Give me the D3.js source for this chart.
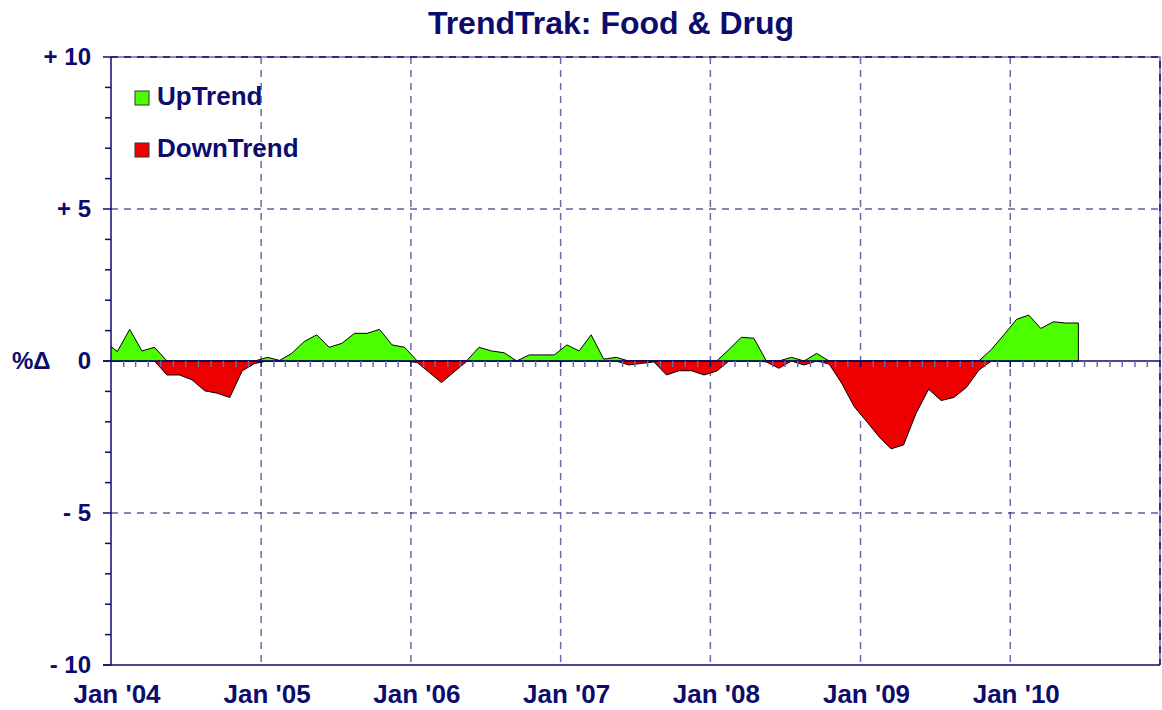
<!DOCTYPE html>
<html>
<head>
<meta charset="utf-8">
<script src="https://cdn.jsdelivr.net/npm/d3@7"></script>
<style>
  body { margin: 0; background: #fff; }
  text { font-family: "Liberation Sans", Arial, sans-serif; font-weight: bold; fill: #0c0c6e; }
</style>
</head>
<body>
<div id="chart"></div>
<script>
// monthly % change, Dec '03 .. Jun '10 (Dec '03 is clipped by the axis)
var startMonth = new Date(2003, 11, 1);
var values = [
  0.64,
  0.31, 1.04, 0.33, 0.45, -0.46, -0.46, -0.62, -0.98, -1.06, -1.2, -0.32, -0.08,
  0.12, 0.02, 0.25, 0.64, 0.86, 0.45, 0.58, 0.91, 0.91, 1.04, 0.53, 0.45,
  -0.05, -0.38, -0.71, -0.36, -0.02, 0.45, 0.33, 0.27, 0.0, 0.2, 0.2, 0.2,
  0.53, 0.33, 0.86, 0.06, 0.12, -0.13, -0.08, -0.03, -0.46, -0.32, -0.32, -0.46,
  -0.33, 0.38, 0.78, 0.75, -0.03, -0.24, 0.12, -0.13, 0.25, -0.1, -0.73, -1.5,
  -2.0, -2.49, -2.89, -2.76, -1.72, -0.93, -1.3, -1.2, -0.87, -0.3, 0.38, 0.86,
  1.37, 1.51, 1.07, 1.29, 1.25, 1.25
];
var yearTicks = [2004, 2005, 2006, 2007, 2008, 2009, 2010];
var yearLabels = ["Jan '04", "Jan '05", "Jan '06", "Jan '07", "Jan '08", "Jan '09", "Jan '10"];
var yTicks = [10, 5, 0, -5, -10];
var yLabels = ["+ 10", "+ 5", "0", "- 5", "- 10"];
var seriesNames = ["UpTrend", "DownTrend"];

var navy = "#0c0c6e", grid = "#6a6aaa";
var upColor = "#4cff00", downColor = "#ee0000";

var W = 1162, H = 710;
var pLeft = 111, pRight = 1160, pTop = 57, pBottom = 665;

var svg = d3.select("#chart").append("svg")
  .attr("width", W).attr("height", H);

var x = d3.scaleTime()
  .domain([new Date(2004, 0, 1), new Date(2011, 0, 1)])
  .range([pLeft, pRight]);
var y = d3.scaleLinear().domain([-10, 10]).range([pBottom, pTop]);

// mid-month positions
var data = values.map(function(v, i) {
  var m0 = d3.timeMonth.offset(startMonth, i);
  var m1 = d3.timeMonth.offset(startMonth, i + 1);
  return { x: (x(m0) + x(m1)) / 2, v: v };
});

svg.append("defs").append("clipPath").attr("id", "plotclip")
  .append("rect").attr("x", pLeft).attr("y", pTop)
  .attr("width", pRight - pLeft).attr("height", pBottom - pTop);

// title
svg.append("text")
  .attr("x", 611).attr("y", 34)
  .attr("text-anchor", "middle")
  .style("font-size", "32px")
  .text("TrendTrak: Food & Drug");

// grid lines
svg.append("g").selectAll("line")
  .data(yearTicks.slice(1))
  .enter().append("line")
  .attr("x1", function(d) { return x(new Date(d, 0, 1)); })
  .attr("x2", function(d) { return x(new Date(d, 0, 1)); })
  .attr("y1", pTop).attr("y2", pBottom)
  .style("stroke", grid).style("stroke-width", 1.5)
  .style("stroke-dasharray", "7,6");

svg.append("g").selectAll("line")
  .data([5, -5])
  .enter().append("line")
  .attr("x1", pLeft).attr("x2", pRight)
  .attr("y1", function(d) { return y(d); })
  .attr("y2", function(d) { return y(d); })
  .style("stroke", navy).style("stroke-width", 1)
  .style("stroke-dasharray", "7,6");

// frame top/right: thin line + dashes
svg.append("path")
  .attr("d", "M" + pLeft + "," + pTop + "H" + pRight + "V" + pBottom)
  .style("fill", "none").style("stroke", grid).style("stroke-width", 1.5);
svg.append("path")
  .attr("d", "M" + pLeft + "," + pTop + "H" + pRight + "V" + pBottom)
  .style("fill", "none").style("stroke", navy).style("stroke-width", 1.5)
  .style("stroke-dasharray", "7,6");

// areas
var plot = svg.append("g").attr("clip-path", "url(#plotclip)");

var upArea = d3.area()
  .x(function(d) { return d.x; })
  .y0(y(0))
  .y1(function(d) { return y(Math.max(d.v, 0)); });
var downArea = d3.area()
  .x(function(d) { return d.x; })
  .y0(y(0))
  .y1(function(d) { return y(Math.min(d.v, 0)); });

plot.append("path").datum(data)
  .attr("d", downArea)
  .style("fill", downColor).style("stroke", "#000").style("stroke-width", 1);
plot.append("path").datum(data)
  .attr("d", upArea)
  .style("fill", upColor).style("stroke", "#000").style("stroke-width", 1);

// zero line with month ticks
svg.append("line")
  .attr("x1", pLeft - 8).attr("x2", pRight)
  .attr("y1", y(0)).attr("y2", y(0))
  .style("stroke", navy).style("stroke-width", 1.5);

var months = d3.timeMonth.range(new Date(2004, 1, 1), new Date(2011, 0, 1));
svg.append("g").selectAll("line")
  .data(months)
  .enter().append("line")
  .attr("x1", function(d) { return x(d); })
  .attr("x2", function(d) { return x(d); })
  .attr("y1", y(0)).attr("y2", y(0) + 6)
  .style("stroke", function(d) { return d.getMonth() == 0 ? navy : grid; })
  .style("stroke-width", 1.5);

// left and bottom axes
svg.append("line")
  .attr("x1", pLeft).attr("x2", pLeft).attr("y1", pTop).attr("y2", pBottom)
  .style("stroke", navy).style("stroke-width", 1.5);
svg.append("line")
  .attr("x1", pLeft - 8).attr("x2", pRight).attr("y1", pBottom).attr("y2", pBottom)
  .style("stroke", navy).style("stroke-width", 1.5);

// y ticks: minor each unit, major at labels
svg.append("g").selectAll("line")
  .data(d3.range(-10, 11))
  .enter().append("line")
  .attr("x1", function(d) { return d % 5 == 0 ? pLeft - 8 : pLeft - 6; })
  .attr("x2", pLeft)
  .attr("y1", function(d) { return y(d); })
  .attr("y2", function(d) { return y(d); })
  .style("stroke", navy).style("stroke-width", 1.5);

svg.append("g").selectAll("text")
  .data(yTicks)
  .enter().append("text")
  .attr("x", 91)
  .attr("y", function(d) { return y(d) + 8; })
  .attr("text-anchor", "end")
  .style("font-size", "24px")
  .text(function(d, i) { return yLabels[i]; });

svg.append("text")
  .attr("x", 12).attr("y", y(0) + 8)
  .style("font-size", "24px")
  .text("%\u0394");

// x labels
svg.append("g").selectAll("text")
  .data(yearTicks)
  .enter().append("text")
  .attr("x", function(d) { return x(new Date(d, 0, 1)) + 6; })
  .attr("y", 703)
  .attr("text-anchor", "middle")
  .style("font-size", "26px")
  .text(function(d, i) { return yearLabels[i]; });

// legend
var legend = svg.append("g").selectAll("g")
  .data(seriesNames)
  .enter().append("g")
  .attr("transform", function(d, i) { return "translate(135," + (91 + i * 52) + ")"; });
legend.append("rect")
  .attr("width", 14).attr("height", 14)
  .style("fill", function(d, i) { return i == 0 ? upColor : downColor; })
  .style("stroke", "#333").style("stroke-width", 1);
legend.append("text")
  .attr("x", 22).attr("y", 14)
  .style("font-size", "26px")
  .text(function(d) { return d; });
</script>
</body>
</html>
